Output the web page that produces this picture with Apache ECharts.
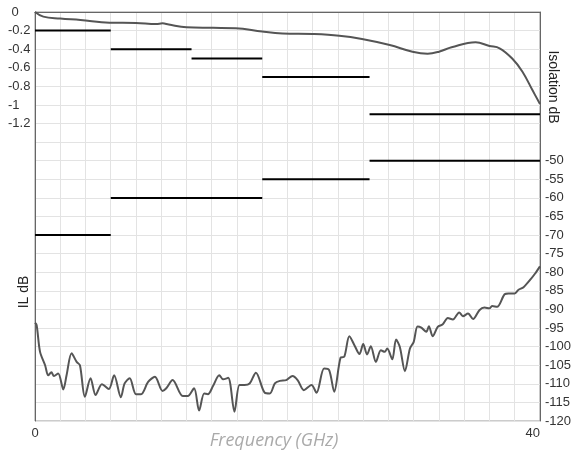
<!DOCTYPE html>
<html><head><meta charset="utf-8">
<script src="https://cdn.jsdelivr.net/npm/echarts@6/dist/echarts.min.js"></script>
<style>html,body{margin:0;padding:0;background:#fff}#c{width:574px;height:457px}</style>
</head><body><div id="c"></div>
<script>
// Insertion loss (left axis)
const ilFreq = [0,0.66,2,3.6,5.9,8,9.6,10.1,10.6,12,14.1,15.9,18,19.6,22,24.1,25.9,28.1,29.9,31.1,32,33,34.9,36,36.8,37.8,38.6,39.4,40];
const ilValues = [0,-0.05,-0.07,-0.086,-0.115,-0.118,-0.13,-0.122,-0.135,-0.165,-0.17,-0.175,-0.21,-0.23,-0.237,-0.255,-0.29,-0.355,-0.427,-0.448,-0.427,-0.38,-0.326,-0.365,-0.39,-0.5,-0.64,-0.84,-0.99];
// Isolation (right axis)
const isoFreq = [0,0.13,0.4,0.8,1.05,1.3,1.5,1.84,2.24,2.5,2.9,3.3,3.56,3.95,4.4,4.8,5.3,5.85,6.27,6.8,7.1,7.5,8.0,8.4,8.96,9.5,10.1,10.4,10.9,11.7,12.1,12.6,13.0,13.4,13.7,14.1,14.6,14.9,15.3,15.8,16.2,16.6,17.0,17.5,18.2,18.6,19.0,19.4,19.9,20.4,20.8,21.3,21.9,22.3,22.9,23.3,23.7,24.2,24.5,24.9,25.3,25.7,26.0,26.3,26.6,27.0,27.4,27.7,27.9,28.3,28.6,28.9,29.3,29.7,30.0,30.3,30.6,31.0,31.2,31.5,31.9,32.3,32.7,33.1,33.6,33.9,34.3,34.7,35.2,35.6,36.0,36.2,36.6,37.2,37.5,38.0,38.3,38.7,39.3,39.6,40];
const isoValues = [-93.6,-94.2,-101.4,-105,-107.7,-106.9,-107.9,-107.2,-111.5,-107.7,-101.8,-104.1,-105,-113.5,-108.5,-113,-110.1,-111.4,-107.7,-113.6,-109.9,-108.5,-112.8,-112.8,-109.5,-108.1,-111.9,-111.2,-109,-113.3,-113.3,-111.2,-117.2,-112.6,-112.8,-110.6,-107.7,-108.8,-108.4,-117.5,-110.3,-110.3,-109.9,-107,-112.4,-112.6,-109.9,-109.2,-109,-107.9,-109,-111.7,-110.3,-112.4,-105.9,-106.3,-112.1,-103.0,-102.7,-97.2,-99.6,-102,-99.3,-102.1,-99.9,-104.1,-101,-101.4,-100.5,-103.4,-98.1,-100.1,-106.6,-100.5,-98.7,-94.6,-94.9,-96,-94.5,-97.2,-94.7,-94,-92.3,-92.7,-90.8,-91.8,-91.1,-92.6,-90.2,-89.5,-89.7,-89.1,-89.3,-85.9,-85.7,-85.7,-84.7,-84,-81.7,-80.4,-78.4];
// Spec limits
const ilSpecBreaks = [0,6,12.4,18,26.5,40];
const ilSpecValues = [-0.2,-0.4,-0.5,-0.7,-1.1];
const isoSpecBreaks = [0,6,18,26.5,40];
const isoSpecValues = [-70,-60,-55,-50];
// Axis ranges / labels
const ilAxis = {min:-4.4, max:0, step:0.2, lowestLabel:-1.2};
const isoAxis = {min:-120, max:-10, step:5, highestLabel:-50};
const freqAxis = {min:0, max:40, step:2};

function zip(xs, ys){ return xs.map((x,i)=>[x, ys[i]]); }
function segs(br, vals){
  const out = [];
  vals.forEach((v,i)=>{ out.push([br[i], v], [br[i+1], v]); if(i<vals.length-1) out.push([br[i+1], '-']); });
  return out;
}
const chart = echarts.init(document.getElementById('c'), null, {renderer:'canvas'});
const lab = {color:'#333', fontSize:13, fontFamily:'Liberation Sans, Arial, sans-serif'};
chart.setOption({
  animation:false,
  grid:{left:35, right:33, top:12, bottom:36, show:true, borderColor:'#999', borderWidth:1},
  xAxis:{type:'value', min:freqAxis.min, max:freqAxis.max, interval:freqAxis.step,
    axisLine:{lineStyle:{color:'#666'}}, axisTick:{show:false},
    splitLine:{lineStyle:{color:'#e3e3e3'}},
    axisLabel:Object.assign({}, lab, {margin:6, alignMaxLabel:'right',
      formatter:v=> (v===freqAxis.min||v===freqAxis.max)? String(v) : ''})},
  yAxis:[
    {type:'value', min:ilAxis.min, max:ilAxis.max, interval:ilAxis.step,
     axisLine:{show:true, lineStyle:{color:'#666'}}, axisTick:{show:false},
     splitLine:{lineStyle:{color:'#e3e3e3'}},
     axisLabel:Object.assign({}, lab, {align:'left', margin:27,
       formatter:v=> v >= ilAxis.lowestLabel-1e-9 ? (v===0 ? ' 0' : String(Number(v.toFixed(1)))) : ''})},
    {type:'value', min:isoAxis.min, max:isoAxis.max, interval:isoAxis.step, position:'right',
     axisLine:{show:true, lineStyle:{color:'#666'}}, axisTick:{show:false},
     splitLine:{show:false},
     axisLabel:Object.assign({}, lab, {margin:5,
       formatter:v=> v <= isoAxis.highestLabel ? String(v) : ''})}
  ],
  graphic:[
    {type:'text', x:24, y:292, rotation:Math.PI/2, style:{text:'IL dB', fill:'#222', font:'14px "Liberation Sans", Arial', textAlign:'center', textVerticalAlign:'middle'}},
    {type:'text', x:553, y:87, rotation:-Math.PI/2, style:{text:'Isolation dB', fill:'#222', font:'14px "Liberation Sans", Arial', textAlign:'center', textVerticalAlign:'middle'}},
    {type:'text', x:274, y:441, style:{text:'Frequency (GHz)', fill:'#aaa', font:'italic 18px "Open Sans"', textAlign:'center', textVerticalAlign:'middle'}}
  ],
  series:[
    {type:'line', yAxisIndex:0, data:zip(ilFreq, ilValues), smooth:0.4, symbol:'none', lineStyle:{color:'#555', width:2}},
    {type:'line', yAxisIndex:1, data:zip(isoFreq, isoValues), smooth:0.3, symbol:'none', lineStyle:{color:'#555', width:2}},
    {type:'line', yAxisIndex:0, data:segs(ilSpecBreaks, ilSpecValues), symbol:'none', connectNulls:false, lineStyle:{color:'#000', width:2}},
    {type:'line', yAxisIndex:1, data:segs(isoSpecBreaks, isoSpecValues), symbol:'none', connectNulls:false, lineStyle:{color:'#000', width:2}}
  ]
});
</script></body></html>
